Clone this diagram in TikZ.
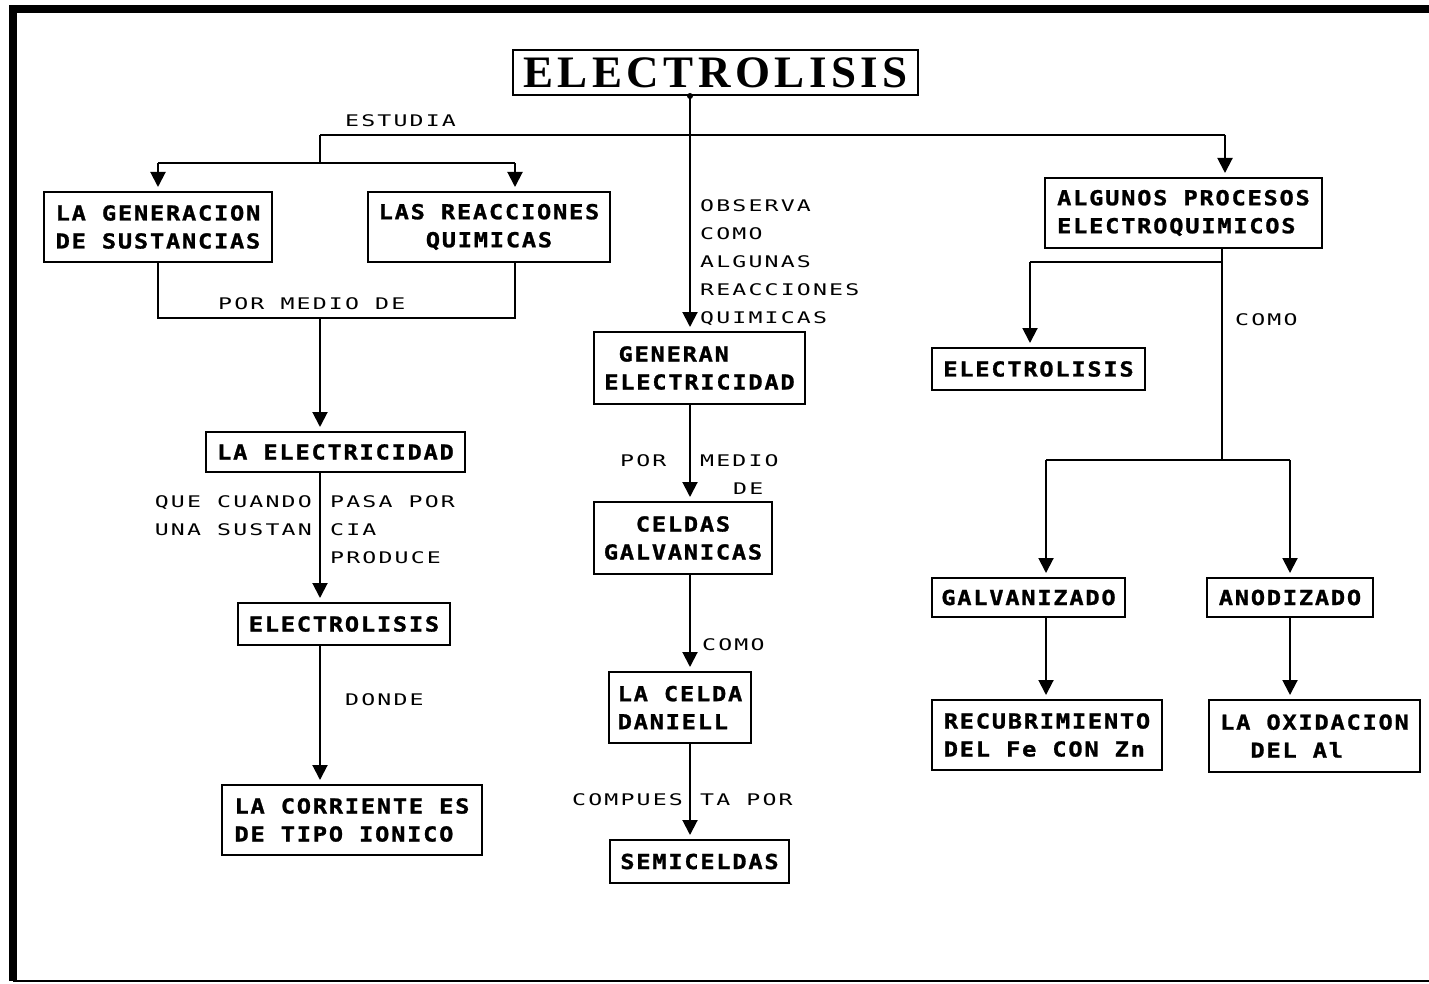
\documentclass[tikz,border=0pt]{standalone}
\usepackage{fontspec}
\usetikzlibrary{arrows.meta}
\newfontfamily\boxfont[LetterSpace=8.5,FakeStretch=1.15,BoldFeatures={FakeBold=1.2}]{DejaVu Sans Mono}
\newfontfamily\lblfont[LetterSpace=13.5,FakeStretch=1.45]{DejaVu Sans Mono}
\newfontfamily\titlefont[LetterSpace=10]{Liberation Serif}
\tikzset{
  box/.style={draw, line width=2pt, inner sep=2pt, align=left,
    font={\boxfont\bfseries\fontsize{20.6}{28}\selectfont}},
  lbl/.style={inner sep=0pt, anchor=west, align=left,
    font={\lblfont\fontsize{16}{28}\selectfont}},
  ln/.style={line width=2pt},
  arr/.style={line width=2pt, -{Triangle[width=15pt,length=15pt]}, shorten >=4pt},
}
\begin{document}
\begin{tikzpicture}[x=1pt,y=-1pt]
\useasboundingbox (0,0) rectangle (1429,984);
% frame
\draw[line width=8pt] (13,981) -- (13,9) -- (1429,9);
\draw[line width=2pt] (13,981) -- (1429,981);

% nodes
\node[box, minimum width=405pt, minimum height=45pt, font={\titlefont\bfseries\fontsize{45}{45}\selectfont}] (title) at (715.5,72.5) {ELECTROLISIS};
\node[box, minimum width=228pt, minimum height=70pt] (gen) at (158,227) {LA GENERACION\\DE SUSTANCIAS};
\node[box, minimum width=242pt, minimum height=70pt, align=center] (rea) at (489,227) {LAS REACCIONES\\QUIMICAS};
\node[box, minimum width=277pt, minimum height=70pt] (alg) at (1183.5,213) {ALGUNOS PROCESOS\\ELECTROQUIMICOS};
\node[box, minimum width=259pt, minimum height=40pt] (elec) at (335.5,452) {LA ELECTRICIDAD};
\node[box, minimum width=212pt, minimum height=42pt] (lys1) at (344,624) {ELECTROLISIS};
\node[box, minimum width=260pt, minimum height=70pt] (corr) at (352,820) {LA CORRIENTE ES\\DE TIPO IONICO};
\node[box, minimum width=211pt, minimum height=72pt] (genr) at (699.5,368) {\phantom{X}GENERAN\\ELECTRICIDAD};
\node[box, minimum width=178pt, minimum height=72pt, align=center] (cel) at (683,538) {CELDAS\\GALVANICAS};
\node[box, minimum width=142pt, minimum height=71pt] (dan) at (680,707.5) {LA CELDA\\DANIELL};
\node[box, minimum width=179pt, minimum height=43pt] (semi) at (699.5,861.5) {SEMICELDAS};
\node[box, minimum width=213pt, minimum height=42pt] (lys2) at (1038.5,369) {ELECTROLISIS};
\node[box, minimum width=193pt, minimum height=39pt] (galv) at (1028.5,597.5) {GALVANIZADO};
\node[box, minimum width=166pt, minimum height=39pt] (anod) at (1290,597.5) {ANODIZADO};
\node[box, minimum width=230pt, minimum height=70pt] (recu) at (1047,735) {RECUBRIMIENTO\\DEL Fe CON Zn};
\node[box, minimum width=211pt, minimum height=72pt] (oxi) at (1314.5,736) {LA OXIDACION\\\phantom{XX}DEL Al};

% helper coordinates
\coordinate (cM) at (690,135);
\coordinate (cL) at (320,135);
\coordinate (cR) at (1225,135);
\coordinate (bL) at (320,163);
\coordinate (xG) at (158,163);
\coordinate (xR) at (515,163);
\coordinate (pL) at (320,318);
\coordinate (rA) at (1222,262);
\coordinate (rB) at (1030,262);
\coordinate (rC) at (1222,460);
\coordinate (rD) at (1046,460);
\coordinate (rE) at (1290,460);

% top tree
\fill (title.south -| cM) circle (3pt);
\draw[arr] (title.south -| cM) -- (genr.north -| cM);
\draw[ln] (cL) -- (cR);
\draw[ln] (cL) -- (bL);
\draw[ln] (xG) -- (xR);
\draw[arr] (xG) -- (gen.north -| xG);
\draw[arr] (xR) -- (rea.north -| xR);
\draw[arr] (cR) -- (alg.north -| cR);
\node[lbl] (estudia) at (345,121) {ESTUDIA};

% left column
\draw[ln] (gen.south) |- (pL) -| (rea.south -| xR);
\draw[arr] (pL) -- (elec.north -| pL);
\node[lbl] (pormedio) at (218,304) {POR MEDIO DE};
\draw[arr] (elec.south -| pL) -- (lys1.north -| pL);
\node[lbl, anchor=east, align=right] (quecuando) at (312,516) {QUE CUANDO\\UNA SUSTAN};
\node[lbl] (pasapor) at (330,530) {PASA POR\\CIA\\PRODUCE};
\draw[arr] (lys1.south -| pL) -- (corr.north -| pL);
\node[lbl] (donde) at (345,700) {DONDE};

% middle column
\node[lbl] (observa) at (700,263) {OBSERVA\\COMO\\ALGUNAS\\REACCIONES\\QUIMICAS};
\draw[arr] (genr.south -| cM) -- (cel.north -| cM);
\node[lbl] (por) at (620,461) {POR};
\node[lbl] (medio) at (700,461) {MEDIO};
\node[lbl] (de) at (733,489) {DE};
\draw[arr] (cel.south -| cM) -- (dan.north -| cM);
\node[lbl] (como1) at (702,645) {COMO};
\draw[arr] (dan.south -| cM) -- (semi.north -| cM);
\node[lbl] (compues) at (572,800) {COMPUES};
\node[lbl] (tapor) at (700,800) {TA POR};

% right column
\draw[ln] (alg.south -| rA) -- (rC);
\draw[ln] (rA) -- (rB);
\draw[arr] (rB) -- (lys2.north -| rB);
\node[lbl] (como2) at (1235,320) {COMO};
\draw[ln] (rD) -- (rE);
\draw[arr] (rD) -- (galv.north -| rD);
\draw[arr] (rE) -- (anod.north -| rE);
\draw[arr] (galv.south -| rD) -- (recu.north -| rD);
\draw[arr] (anod.south -| rE) -- (oxi.north -| rE);
\end{tikzpicture}
\end{document}
